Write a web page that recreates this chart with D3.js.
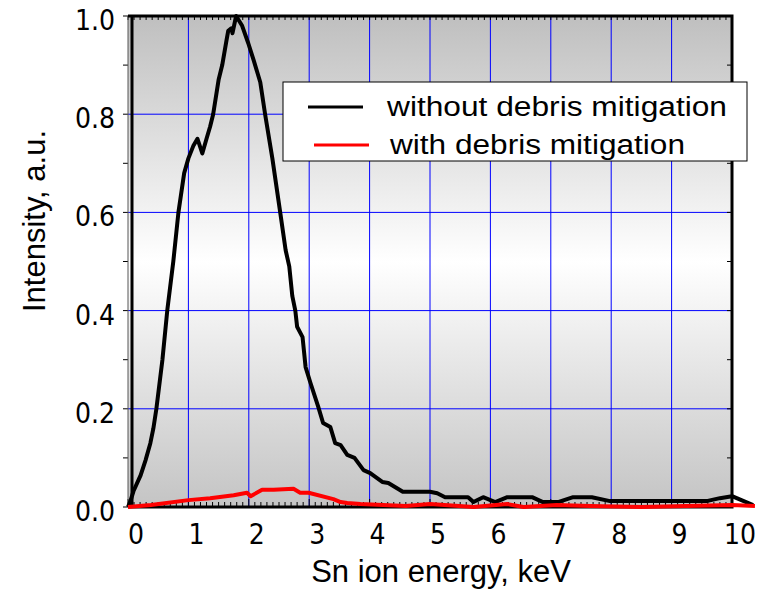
<!DOCTYPE html>
<html>
<head>
<meta charset="utf-8">
<script src="https://cdn.jsdelivr.net/npm/d3@7"></script>
<style>
  body { margin: 0; background: #fff; }
  svg { display: block; }
</style>
</head>
<body>
<div id="chart"></div>
<script>
// Spectrum without debris mitigation (energy keV, intensity a.u.)
const energyWithout = [0, 0.04, 0.09, 0.21, 0.29, 0.37, 0.42, 0.47, 0.57, 0.65, 0.75, 0.835, 0.93, 1.0, 1.08,
  1.15, 1.23, 1.30, 1.36, 1.41, 1.50, 1.56, 1.63, 1.66, 1.71, 1.73, 1.79, 1.89, 1.99, 2.08, 2.19, 2.27, 2.39,
  2.52, 2.61, 2.67, 2.72, 2.77, 2.80, 2.89, 2.94, 3.02, 3.15, 3.23, 3.35, 3.43, 3.52, 3.63, 3.75, 3.90, 4.01,
  4.21, 4.31, 4.55, 5.0, 5.12, 5.25, 5.63, 5.72, 5.88, 6.08, 6.28, 6.69, 6.87, 7.12, 7.37, 7.68, 7.98, 9.58,
  9.80, 10.0, 10.35];
const intensityWithout = [0, 0.012, 0.032, 0.065, 0.095, 0.13, 0.16, 0.2, 0.3, 0.4, 0.5, 0.6, 0.68, 0.71, 0.735,
  0.75, 0.72, 0.75, 0.775, 0.80, 0.87, 0.90, 0.95, 0.97, 0.975, 0.965, 1.0, 0.98, 0.945, 0.91, 0.865, 0.80, 0.71,
  0.60, 0.523, 0.49, 0.43, 0.40, 0.367, 0.346, 0.285, 0.253, 0.204, 0.171, 0.163, 0.13, 0.126, 0.106, 0.10, 0.075, 0.069,
  0.051, 0.049, 0.031, 0.031, 0.028, 0.02, 0.02, 0.01, 0.02, 0.01, 0.02, 0.02, 0.01, 0.01, 0.02, 0.02, 0.012, 0.012,
  0.018, 0.022, 0.004];

// Spectrum with debris mitigation
const energyWith = [0, 0.38, 1.0, 1.36, 1.75, 1.97, 2.03, 2.22, 2.41, 2.74, 2.85, 2.99, 3.40, 3.52, 3.63, 3.85,
  4.6, 5.0, 5.72, 6.28, 6.55, 7.1, 7.65, 8.5, 10.0, 10.38];
const intensityWith = [0, 0.004, 0.014, 0.018, 0.024, 0.029, 0.022, 0.035, 0.035, 0.037, 0.029, 0.029, 0.016, 0.01,
  0.008, 0.006, 0.002, 0.006, 0.0, 0.006, 0.0, 0.004, 0.002, 0.0, 0.004, 0.002];

const seriesNames = ['without debris mitigation', 'with debris mitigation'];
const xTicks = [0, 1, 2, 3, 4, 5, 6, 7, 8, 9, 10];
const yTicks = [0, 0.2, 0.4, 0.6, 0.8, 1.0];

let w = 766, h = 590,
  pLeft = 128, pRight = 732, pTop = 16, pBottom = 507,
  x = d3.scaleLinear().domain([0, 10]).range([pLeft, pRight]),
  y = d3.scaleLinear().domain([0, 1]).range([pBottom, pTop]),
  tickFont = '"Liberation Sans Narrow", "Arial Narrow", "DejaVu Sans Condensed", sans-serif',
  titleFont = '"Liberation Sans", Arial, sans-serif';

let svg = d3.select('#chart').append('svg').
  attr('width', w).
  attr('height', h);

// Gray-white-gray background gradient
let grad = svg.append('defs').append('linearGradient').
  attr('id', 'bg').
  attr('x1', 0).attr('y1', 0).attr('x2', 0).attr('y2', 1);
grad.append('stop').attr('offset', '0%').attr('stop-color', '#bfbfbf');
grad.append('stop').attr('offset', '50%').attr('stop-color', '#ffffff');
grad.append('stop').attr('offset', '100%').attr('stop-color', '#c4c4c4');

svg.append('rect').
  attr('x', pLeft).attr('y', pTop).
  attr('width', pRight - pLeft).attr('height', pBottom - pTop).
  attr('fill', 'url(#bg)');

// Blue grid
svg.append('g').selectAll('line').
  data(xTicks.slice(1, -1)).
  enter().append('line').
  attr('x1', d => x(d)).attr('x2', d => x(d)).
  attr('y1', pTop).attr('y2', pBottom).
  attr('stroke', '#0000ff').attr('stroke-width', 1);
svg.append('g').selectAll('line').
  data(yTicks.slice(1, -1)).
  enter().append('line').
  attr('x1', pLeft).attr('x2', pRight).
  attr('y1', d => y(d)).attr('y2', d => y(d)).
  attr('stroke', '#0000ff').attr('stroke-width', 1);

// Minor ticks: top/bottom every 0.1 keV, left/right every 0.1
let xMinor = d3.range(0, 101).map(i => i / 10),
  yMinor = d3.range(0, 11).map(i => i / 10);
let ticks = svg.append('g').attr('stroke', '#000').attr('stroke-width', 1);
ticks.selectAll('.tb').data(xMinor).enter().append('line').
  attr('x1', d => x(d)).attr('x2', d => x(d)).
  attr('y1', pBottom).attr('y2', (d, i) => pBottom - (i % 10 === 0 ? 8 : 5));
ticks.selectAll('.tt').data(xMinor).enter().append('line').
  attr('x1', d => x(d)).attr('x2', d => x(d)).
  attr('y1', pTop).attr('y2', pTop + 4);
ticks.selectAll('.tl').data(yMinor).enter().append('line').
  attr('x1', pLeft - 5).attr('x2', pLeft).
  attr('y1', d => y(d)).attr('y2', d => y(d));
ticks.selectAll('.tr').data(yMinor).enter().append('line').
  attr('x1', pRight - 5).attr('x2', pRight).
  attr('y1', d => y(d)).attr('y2', d => y(d));

// Frame
svg.append('line').attr('x1', pLeft).attr('x2', pLeft).attr('y1', pTop).attr('y2', pBottom).
  attr('stroke', '#555').attr('stroke-width', 1);
svg.append('line').attr('x1', pLeft + 4).attr('x2', pLeft + 4).attr('y1', pTop).attr('y2', pBottom).
  attr('stroke', '#000').attr('stroke-width', 3);
svg.append('path').
  attr('d', `M${pLeft},${pTop}H${pRight}V${pBottom}H${pLeft}`).
  attr('fill', 'none').attr('stroke', '#000').attr('stroke-width', 3);

// Curves
let line = d3.line().x(d => x(d[0])).y(d => y(d[1]));
svg.append('path').
  datum(d3.zip(energyWithout, intensityWithout)).
  attr('d', line).
  attr('fill', 'none').attr('stroke', '#000').attr('stroke-width', 4).attr('stroke-linejoin', 'round');
svg.append('path').
  datum(d3.zip(energyWith, intensityWith)).
  attr('d', line).
  attr('fill', 'none').attr('stroke', '#ff0000').attr('stroke-width', 4).attr('stroke-linejoin', 'round');

// Tick labels
svg.append('g').selectAll('text').
  data(xTicks).enter().append('text').
  attr('x', d => x(d) + 8).attr('y', 544).
  attr('text-anchor', 'middle').
  style('font-family', tickFont).style('font-size', '28px').
  text(d => d);
svg.append('g').selectAll('text').
  data(yTicks).enter().append('text').
  attr('x', 115).attr('y', d => y(d) + 14).
  attr('text-anchor', 'end').
  style('font-family', tickFont).style('font-size', '28px').
  text(d => d.toFixed(1));

// Axis titles
svg.append('text').
  attr('x', 441).attr('y', 582).
  attr('text-anchor', 'middle').
  style('font-family', titleFont).style('font-size', '31px').
  text('Sn ion energy, keV');
svg.append('text').
  attr('transform', 'translate(45,221) rotate(-90)').
  attr('text-anchor', 'middle').
  style('font-family', titleFont).style('font-size', '31px').
  text('Intensity, a.u.');

// Legend
let legend = svg.append('g');
legend.append('rect').
  attr('x', 283).attr('y', 82).attr('width', 464).attr('height', 79).
  attr('fill', '#fff').attr('stroke', '#000').attr('stroke-width', 1);
let legendColors = ['#000', '#ff0000'],
  legendLineX = [308, 314],
  legendTextX = [387, 390],
  legendTextLen = [340, 295];
seriesNames.forEach((name, i) => {
  let ly = 107 + i * 38;
  legend.append('line').
    attr('x1', legendLineX[i]).attr('x2', legendLineX[i] + 55).
    attr('y1', ly).attr('y2', ly).
    attr('stroke', legendColors[i]).attr('stroke-width', 3);
  legend.append('text').
    attr('x', legendTextX[i]).attr('y', ly + 9).
    attr('textLength', legendTextLen[i]).attr('lengthAdjust', 'spacingAndGlyphs').
    style('font-family', titleFont).style('font-size', '27px').
    text(name);
});
</script>
</body>
</html>
